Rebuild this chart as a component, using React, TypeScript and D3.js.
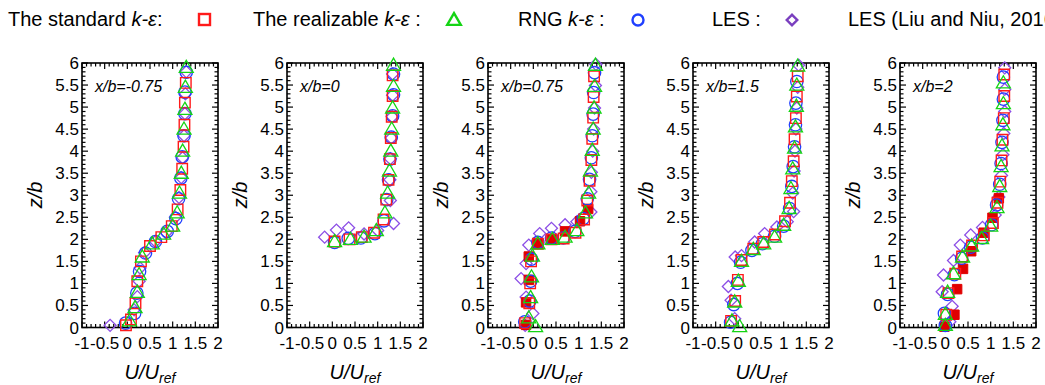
import React from "react";
import * as d3 from "d3";

// ---------- data (u = U/Uref, z = z/b) ----------
const panelTitles = ["x/b=-0.75", "x/b=0", "x/b=0.75", "x/b=1.5", "x/b=2"];
const xTickValues = [-1, -0.5, 0, 0.5, 1, 1.5, 2];
const xTickLabels = ["-1", "-0.5", "0", "0.5", "1", "1.5", "2"];
const yTickValues = [0, 0.5, 1, 1.5, 2, 2.5, 3, 3.5, 4, 4.5, 5, 5.5, 6];
const yTickLabels = ["0", "0.5", "1", "1.5", "2", "2.5", "3", "3.5", "4", "4.5", "5", "5.5", "6"];

const legendLabels = ["The standard ", "The realizable ", "RNG ", "LES :", "LES (Liu and Niu, 2016) :"];

// x/b = -0.75
const std_m075 = [[1.29,5.55],[1.27,5.1],[1.26,4.6],[1.24,4.1],[1.21,3.6],[1.17,3.12],[1.11,2.68],[0.98,2.3],[0.75,2.05],[0.5,1.85],[0.3,1.5],[0.22,1.05],[0.18,0.55],[0.08,0.18],[-0.03,0.05]];
const real_m075 = [[1.3,5.9],[1.28,5.45],[1.27,4.95],[1.25,4.5],[1.22,4.0],[1.19,3.5],[1.15,3.05],[1.1,2.6],[1.0,2.3],[0.8,2.12],[0.55,1.9],[0.33,1.6],[0.26,1.2],[0.22,0.8],[0.17,0.45],[0.05,0.15]];
const rng_m075 = [[1.3,5.79],[1.27,5.34],[1.27,4.85],[1.25,4.35],[1.21,3.87],[1.18,3.39],[1.13,2.92],[1.07,2.47],[0.88,2.18],[0.62,1.95],[0.4,1.69],[0.27,1.27],[0.21,0.78],[0.16,0.32],[-0.04,0.1]];
const les_m075 = [[1.3,5.8],[1.28,5.3],[1.27,4.85],[1.25,4.35],[1.22,3.85],[1.19,3.4],[1.14,2.95],[1.06,2.5],[0.85,2.15],[0.62,1.95],[0.38,1.7],[0.28,1.35],[0.26,1.05],[0.22,0.7],[0.15,0.4],[-0.38,0.05]];
const exp_m075: number[][] = [];

// x/b = 0
const std_0 = [[1.33,5.72],[1.33,5.25],[1.31,4.78],[1.29,4.3],[1.27,3.82],[1.24,3.35],[1.19,2.9],[1.13,2.45],[0.92,2.15],[0.65,2.05],[0.38,2.0],[0.05,1.95]];
const real_0 = [[1.35,5.95],[1.35,5.47],[1.33,4.98],[1.31,4.5],[1.29,4.0],[1.26,3.55],[1.22,3.05],[1.16,2.6],[0.97,2.2],[0.7,2.05],[0.4,2.0],[0.05,1.95]];
const rng_0 = [[1.35,5.75],[1.35,5.28],[1.33,4.8],[1.3,4.32],[1.27,3.82],[1.24,3.35],[1.2,2.9],[1.14,2.42],[0.94,2.13],[0.63,2.03],[0.35,2.02],[0.05,1.93]];
const les_0 = [[1.33,5.75],[1.33,5.27],[1.32,4.78],[1.3,4.3],[1.28,3.83],[1.27,3.35],[1.28,2.88],[1.35,2.36],[1.0,2.2],[0.7,2.12],[0.36,2.26],[0.09,2.21],[-0.17,2.05]];
const exp_0: number[][] = [];

// x/b = 0.75
const std_075 = [[1.34,5.7],[1.33,5.23],[1.32,4.76],[1.3,4.28],[1.28,3.8],[1.24,3.33],[1.19,2.88],[1.12,2.45],[0.93,2.15],[0.67,2.02],[0.4,2.0],[0.1,1.9],[-0.05,1.5],[-0.07,1.0],[-0.09,0.55],[-0.18,0.1]];
const real_075 = [[1.37,5.95],[1.35,5.47],[1.34,4.98],[1.32,4.5],[1.3,4.02],[1.26,3.55],[1.22,3.05],[1.15,2.6],[0.96,2.2],[0.7,2.05],[0.42,2.0],[0.1,1.9],[-0.02,1.62],[-0.04,1.15],[-0.06,0.68],[-0.1,0.22],[0.05,0.02]];
const rng_075 = [[1.35,5.78],[1.33,5.33],[1.32,4.84],[1.3,4.35],[1.28,3.85],[1.24,3.36],[1.19,2.92],[1.1,2.47],[0.92,2.18],[0.66,2.03],[0.4,2.03],[0.1,1.93],[-0.04,1.55],[-0.06,1.05],[-0.08,0.6],[-0.19,0.13]];
const les_075 = [[1.38,5.97],[1.37,5.49],[1.35,4.98],[1.33,4.5],[1.31,4.0],[1.28,3.52],[1.27,3.08],[1.27,2.62],[0.96,2.4],[0.7,2.33],[0.4,2.25],[0.14,2.13],[-0.1,1.87],[-0.16,1.45],[-0.27,1.11],[-0.16,0.69],[-0.01,0.32],[-0.18,0.05]];
const exp_075 = [[-0.16,0.06],[-0.16,0.57],[-0.1,1.08],[-0.1,1.61],[0.1,1.9],[0.42,2.0],[0.7,2.18],[1.03,2.41],[1.21,2.69]];

// x/b = 1.5
const std_15 = [[1.31,5.7],[1.29,5.24],[1.27,4.75],[1.24,4.27],[1.22,3.77],[1.18,3.32],[1.14,2.83],[1.03,2.41],[0.81,2.11],[0.55,1.94],[0.33,1.79],[0.07,1.53],[-0.01,1.08],[-0.07,0.6],[-0.16,0.15]];
const real_15 = [[1.31,5.93],[1.29,5.5],[1.28,5.02],[1.26,4.55],[1.24,4.07],[1.2,3.6],[1.16,3.15],[1.12,2.7],[1.0,2.32],[0.8,2.05],[0.56,1.9],[0.33,1.77],[0.07,1.5],[0.0,1.05],[-0.08,0.58],[-0.14,0.15],[0.03,0.02]];
const rng_15 = [[1.29,5.58],[1.27,5.09],[1.26,4.6],[1.24,4.1],[1.21,3.65],[1.18,3.2],[1.13,2.7],[1.0,2.3],[0.8,2.07],[0.53,1.9],[0.3,1.75],[0.05,1.48],[-0.02,1.0],[-0.1,0.52],[-0.17,0.12]];
const les_15 = [[1.33,5.95],[1.31,5.45],[1.29,4.98],[1.27,4.5],[1.25,4.0],[1.23,3.55],[1.2,3.05],[1.22,2.63],[1.08,2.4],[0.85,2.28],[0.58,2.13],[0.36,1.94],[0.07,1.63],[-0.07,1.6],[-0.22,0.93],[-0.16,0.62],[-0.08,0.2]];
const exp_15: number[][] = [];

// x/b = 2
const std_2 = [[1.3,5.74],[1.3,5.25],[1.29,4.75],[1.26,4.26],[1.24,3.79],[1.21,3.31],[1.15,2.83],[1.05,2.37],[0.85,2.09],[0.59,1.86],[0.37,1.61],[0.22,1.22],[0.07,0.78],[0.02,0.29]];
const real_2 = [[1.28,5.55],[1.28,5.08],[1.27,4.6],[1.25,4.12],[1.23,3.65],[1.2,3.2],[1.14,2.72],[1.0,2.3],[0.8,2.02],[0.58,1.85],[0.38,1.6],[0.18,1.22],[0.05,0.8],[0.0,0.3],[0.0,0.05]];
const rng_2 = [[1.28,5.68],[1.28,5.18],[1.27,4.7],[1.25,4.2],[1.23,3.72],[1.2,3.25],[1.13,2.78],[1.02,2.33],[0.82,2.03],[0.56,1.82],[0.36,1.57],[0.2,1.2],[0.05,0.75],[-0.02,0.32],[0.0,0.05]];
const les_2 = [[1.31,5.89],[1.31,5.4],[1.31,4.9],[1.29,4.4],[1.27,3.92],[1.24,3.45],[1.18,2.96],[1.1,2.55],[0.82,2.27],[0.56,2.1],[0.33,1.87],[0.18,1.52],[-0.04,1.19],[-0.07,0.81],[0.15,0.48],[0.1,0.13]];
const exp_2 = [[1.18,2.93],[1.04,2.49],[0.85,2.15],[0.57,1.73],[0.39,1.33],[0.26,0.87],[0.2,0.29],[-0.02,0.02]];

const panels = [
  { std: std_m075, real: real_m075, rng: rng_m075, les: les_m075, exp: exp_m075 },
  { std: std_0, real: real_0, rng: rng_0, les: les_0, exp: exp_0 },
  { std: std_075, real: real_075, rng: rng_075, les: les_075, exp: exp_075 },
  { std: std_15, real: real_15, rng: rng_15, les: les_15, exp: exp_15 },
  { std: std_2, real: real_2, rng: rng_2, les: les_2, exp: exp_2 },
];

// ---------- layout ----------
const W = 1045, H = 385;
const panelLefts = [82, 287, 488, 693, 900];
const panelW = 136;
const plotTop = 63, plotBottom = 327.5;
const FONT = "Liberation Sans, Arial, sans-serif";
const RED = "#ff1a1a", GREEN = "#14d414", BLUE = "#2040ff", PURPLE = "#8c4ee6";

const symSquare = d3.symbol().type(d3.symbolSquare).size(110)() as string;
const symSquareSmall = d3.symbol().type(d3.symbolSquare).size(90)() as string;
const symTri = d3.symbol().type(d3.symbolTriangle).size(85)() as string;
const symCircle = d3.symbol().type(d3.symbolCircle).size(120)() as string;
const symDiamond = d3.symbol().type(d3.symbolSquare).size(72)() as string;

function Panel({ idx }: { idx: number }) {
  const left = panelLefts[idx];
  const x = d3.scaleLinear().domain([-1, 2]).range([left, left + panelW]);
  const y = d3.scaleLinear().domain([0, 6]).range([plotBottom, plotTop]);
  const d = panels[idx];
  const xMinor = d3.range(-10, 21).map((v) => v / 10);
  const yMinor = d3.range(0, 61).map((v) => v / 10);
  const isMajor = (v: number) => Math.abs(v * 2 - Math.round(v * 2)) < 1e-6;
  const cx = left + panelW / 2;
  return (
    <g>
      {xMinor.map((v, i) => {
        const L = isMajor(v) ? 6 : 3.5;
        return (
          <g key={"xt" + i} stroke="#000" strokeWidth={1.2}>
            <line x1={x(v)} x2={x(v)} y1={plotBottom} y2={plotBottom - L} />
            <line x1={x(v)} x2={x(v)} y1={plotTop} y2={plotTop + L} />
          </g>
        );
      })}
      {yMinor.map((v, i) => {
        const L = isMajor(v) ? 6 : 3.5;
        return (
          <g key={"yt" + i} stroke="#000" strokeWidth={1.2}>
            <line x1={left} x2={left + L} y1={y(v)} y2={y(v)} />
            <line x1={left + panelW} x2={left + panelW - L} y1={y(v)} y2={y(v)} />
          </g>
        );
      })}
      <rect x={left} y={plotTop} width={panelW} height={plotBottom - plotTop} fill="none" stroke="#000" strokeWidth={1.6} />
      {xTickValues.map((v, i) => (
        <text key={"xl" + i} x={x(v)} y={349} textAnchor="middle" fontSize={17} fontFamily={FONT}>{xTickLabels[i]}</text>
      ))}
      {yTickValues.map((v, i) => (
        <text key={"yl" + i} x={left - 3} y={y(v) + 6} textAnchor="end" fontSize={17} fontFamily={FONT}>{yTickLabels[i]}</text>
      ))}
      <text x={left + 13} y={92} fontSize={16} fontStyle="italic" fontFamily={FONT}>{panelTitles[idx]}</text>
      <text transform={`translate(${left - 40},195) rotate(-90)`} textAnchor="middle" fontSize={20} fontStyle="italic" fontFamily={FONT}>z/b</text>
      <text x={cx} y={379} textAnchor="middle" fontSize={20} fontStyle="italic" fontFamily={FONT}>
        U/U<tspan fontSize={14} dy={4}>ref</tspan>
      </text>
      {d.les.map((p, i) => (
        <path key={"les" + i} d={symDiamond} transform={`translate(${x(p[0])},${y(p[1])}) rotate(45)`} fill="none" stroke={PURPLE} strokeWidth={1.3} />
      ))}
      {d.exp.map((p, i) => (
        <path key={"exp" + i} d={symSquareSmall} transform={`translate(${x(p[0])},${y(p[1])})`} fill="#e00000" stroke="#e00000" strokeWidth={1} />
      ))}
      {d.rng.map((p, i) => (
        <path key={"rng" + i} d={symCircle} transform={`translate(${x(p[0])},${y(p[1])})`} fill="none" stroke={BLUE} strokeWidth={1.3} />
      ))}
      {d.std.map((p, i) => (
        <path key={"std" + i} d={symSquare} transform={`translate(${x(p[0])},${y(p[1])})`} fill="none" stroke={RED} strokeWidth={1.4} />
      ))}
      {d.real.map((p, i) => (
        <path key={"real" + i} d={symTri} transform={`translate(${x(p[0])},${y(p[1]) + 1})`} fill="none" stroke={GREEN} strokeWidth={1.3} />
      ))}
    </g>
  );
}

export default function App() {
  const lf = { fontSize: 20, fontFamily: FONT } as const;
  return (
    <svg width={W} height={H} style={{ position: "absolute", left: 0, top: 0, background: "#fff" }}>
      <text x={8} y={26} {...lf}>{legendLabels[0]}<tspan fontStyle="italic">k-ε</tspan>:</text>
      <rect x={199} y={14} width={11} height={11} fill="none" stroke={RED} strokeWidth={2.4} />
      <text x={253} y={26} {...lf}>{legendLabels[1]}<tspan fontStyle="italic">k-ε</tspan> :</text>
      <path d={d3.symbol().type(d3.symbolTriangle).size(80)() as string} transform="translate(454,21)" fill="none" stroke={GREEN} strokeWidth={2.4} />
      <text x={518} y={26} {...lf}>{legendLabels[2]}<tspan fontStyle="italic">k-ε</tspan> :</text>
      <circle cx={638} cy={20} r={5.5} fill="none" stroke={BLUE} strokeWidth={2.4} />
      <text x={712} y={26} {...lf}>{legendLabels[3]}</text>
      <path d={d3.symbol().type(d3.symbolSquare).size(56)() as string} transform="translate(792,20) rotate(45)" fill="none" stroke="#7a3fbf" strokeWidth={2.4} />
      <text x={848} y={26} {...lf}>{legendLabels[4]}</text>
      {panels.map((_, i) => <Panel key={i} idx={i} />)}
    </svg>
  );
}
